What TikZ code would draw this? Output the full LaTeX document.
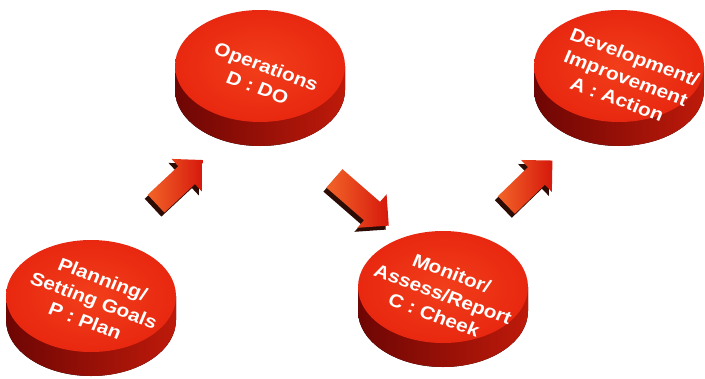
\documentclass[tikz,border=0pt]{standalone}
\usepackage{fontspec}
\setmainfont{Liberation Sans}
\usetikzlibrary{shapes.geometric,shapes.arrows,shadows,backgrounds}

\definecolor{disctop}{RGB}{232,40,16}
\definecolor{disclight}{RGB}{242,62,26}
\definecolor{discside}{RGB}{190,26,10}
\definecolor{discdark}{RGB}{110,6,4}
\definecolor{arrowtail}{RGB}{242,100,40}
\definecolor{arrowhead}{RGB}{214,24,12}
\definecolor{arrowdark}{RGB}{45,12,6}

\begin{document}
\begin{tikzpicture}[x=1pt,y=-1pt,
    disc/.style={ellipse, minimum width=170pt, minimum height=112pt, inner sep=0pt, outer sep=0pt,
      inner color=disclight, outer color=disctop},
    discside/.style={left color=discdark, right color=discside},
    disctext/.style={text=white, font=\bfseries\fontsize{17}{21}\selectfont, align=center,
      cm={1.14,-0.42,0.42,1,(0,0)}},
    cyclearrow/.style={single arrow, single arrow head extend=10pt, single arrow head indent=0pt,
      inner xsep=0pt, inner ysep=12pt, minimum height=64pt, left color=arrowtail, right color=arrowhead,
      general shadow={fill=arrowdark, shadow xshift=-3pt, shadow yshift=-4pt}}]
    \useasboundingbox (0,0) rectangle (705,378);
    % the four discs
    \node [disc] (plan) at (91,296) {};
    \node [disc] (do) at (260,66) {};
    \node [disc] (check) at (443,287) {};
    \node [disc] (act) at (619,66) {};
    \begin{scope}[on background layer]
      \foreach \d in {plan,do,check,act}
        \fill [discside] (\d.west) -- ++(0,24) arc [start angle=180, end angle=0, x radius=85, y radius=56]
          -- (\d.east) -- cycle;
    \end{scope}
    \node [disctext] (plantext) at ([xshift=3pt,yshift=-4pt]plan.center) {Planning/\\Setting Goals\\P : Plan};
    \node [disctext] (dotext) at ([xshift=2pt,yshift=-11pt]do.center) {Operations\\D : DO};
    \node [disctext] (checktext) at ([yshift=-7pt]check.center) {Monitor/\\Assess/Report\\C : Cheek};
    \node [disctext] (acttext) at ([xshift=7pt,yshift=-12pt]act.center) {Development/\\Improvement\\A : Action};
    % arrows between them
    \node [cyclearrow, rotate=43] (plantodo) at (175,186) {};
    \node [cyclearrow, rotate=-41, minimum height=72pt] (dotocheck) at (357,198) {};
    \node [cyclearrow, rotate=44] (checktoact) at (525,187) {};
\end{tikzpicture}
\end{document}
